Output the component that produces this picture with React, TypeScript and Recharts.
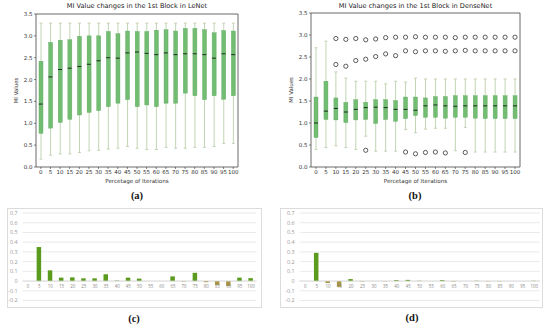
import React from "react";
import {
  Bar,
  CartesianGrid,
  Cell,
  ComposedChart,
  ReferenceArea,
  ReferenceLine,
  Scatter,
  XAxis,
  YAxis,
} from "recharts";

const pcts = [0, 5, 10, 15, 20, 25, 30, 35, 40, 45, 50, 55, 60, 65, 70, 75, 80, 85, 90, 95, 100];
const topTicks = [0, 0.5, 1, 1.5, 2, 2.5, 3, 3.5];
const bottomTicks = [-0.2, -0.1, 0, 0.1, 0.2, 0.3, 0.4, 0.5, 0.6, 0.7];

// (a) LeNet, 1st block
const lenetMin = [0.18, 0.27, 0.3, 0.3, 0.33, 0.37, 0.38, 0.41, 0.43, 0.47, 0.43, 0.4, 0.4, 0.45, 0.43, 0.43, 0.45, 0.45, 0.47, 0.54, 0.54];
const lenetQ1 = [0.77, 0.89, 1.02, 1.09, 1.19, 1.25, 1.29, 1.38, 1.46, 1.54, 1.38, 1.42, 1.38, 1.46, 1.46, 1.69, 1.63, 1.54, 1.63, 1.55, 1.63];
const lenetMed = [1.44, 2.06, 2.23, 2.26, 2.3, 2.35, 2.43, 2.5, 2.49, 2.61, 2.63, 2.6, 2.57, 2.61, 2.57, 2.59, 2.59, 2.57, 2.49, 2.59, 2.57];
const lenetQ3 = [2.42, 2.85, 2.9, 2.91, 2.99, 3.0, 3.0, 3.1, 3.05, 3.11, 3.1, 3.1, 3.13, 3.14, 3.11, 3.17, 3.17, 3.14, 3.07, 3.12, 3.11];
const lenetMax = [3.29, 3.29, 3.29, 3.29, 3.29, 3.29, 3.29, 3.29, 3.29, 3.29, 3.29, 3.29, 3.29, 3.29, 3.29, 3.29, 3.29, 3.29, 3.29, 3.29, 3.29];

// (b) DenseNet, 1st block
const denseMin = [0.4, 0.44, 0.48, 0.44, 0.4, 0.7, 0.36, 0.36, 0.36, 0.85, 0.78, 0.86, 0.88, 0.88, 0.37, 0.9, 0.34, 0.34, 0.34, 0.34, 0.34];
const denseQ1 = [0.67, 1.08, 1.07, 1.01, 1.07, 1.08, 0.99, 1.08, 1.04, 1.1, 1.17, 1.13, 1.13, 1.11, 1.13, 1.13, 1.11, 1.1, 1.1, 1.1, 1.1];
const denseMed = [1.0, 1.27, 1.33, 1.25, 1.31, 1.35, 1.36, 1.35, 1.31, 1.31, 1.29, 1.39, 1.41, 1.39, 1.38, 1.39, 1.39, 1.39, 1.39, 1.39, 1.39];
const denseQ3 = [1.59, 1.95, 1.57, 1.47, 1.53, 1.47, 1.53, 1.53, 1.51, 1.59, 1.59, 1.57, 1.6, 1.6, 1.62, 1.62, 1.62, 1.62, 1.62, 1.62, 1.62];
const denseMax = [2.71, 2.86, 2.16, 2.02, 1.95, 1.95, 1.95, 1.89, 1.95, 1.93, 2.02, 2.0, 2.0, 2.0, 2.0, 2.0, 2.0, 2.0, 2.0, 2.0, 2.0];
const denseOutHi = [null, null, 2.92, 2.9, 2.92, 2.89, 2.91, 2.94, 2.95, 2.95, 2.96, 2.95, 2.95, 2.95, 2.94, 2.95, 2.95, 2.95, 2.95, 2.95, 2.95];
const denseOutMid = [null, null, 2.33, 2.29, 2.42, 2.45, 2.51, 2.57, 2.53, 2.64, 2.62, 2.64, 2.64, 2.63, 2.64, 2.65, 2.64, 2.64, 2.64, 2.64, 2.64];
const denseOutLo = [null, null, null, null, null, 0.38, null, null, null, 0.34, 0.3, 0.33, 0.34, 0.32, null, 0.33, null, null, null, null, null];

// (c) LeNet differences, (d) DenseNet differences
const lenetDiff = [0, 0.35, 0.11, 0.035, 0.038, 0.028, 0.028, 0.07, 0.005, 0.035, 0.025, 0, 0, 0.048, -0.005, 0.085, -0.012, -0.04, -0.05, 0.035, 0.03];
const denseDiff = [0, 0.29, -0.02, -0.06, 0.02, -0.005, 0, -0.003, 0.01, 0.012, 0.003, 0, 0.01, -0.005, 0, 0.003, -0.003, -0.003, 0, 0, 0.003];

type Num = number | null;

function boxRows(mins: number[], q1: number[], med: number[], q3: number[], maxs: number[], outs: Num[][]) {
  return pcts.map((p, i) => ({
    pct: String(p),
    whisker: [mins[i], maxs[i]],
    box: [q1[i], q3[i]],
    med: med[i],
    o0: outs[0] ? outs[0][i] : null,
    o1: outs[1] ? outs[1][i] : null,
    o2: outs[2] ? outs[2][i] : null,
  }));
}

const lenetRows = boxRows(lenetMin, lenetQ1, lenetMed, lenetQ3, lenetMax, []);
const denseRows = boxRows(denseMin, denseQ1, denseMed, denseQ3, denseMax, [denseOutHi, denseOutMid, denseOutLo]);

const WhiskerShape = (props: any) => {
  const { x, y, width, height } = props;
  if (x == null || y == null || isNaN(y)) return <g />;
  const cx = x + width / 2;
  const top = Math.min(y, y + height);
  const bot = Math.max(y, y + height);
  return (
    <g stroke="#c2d4b4" strokeWidth={1}>
      <line x1={cx} x2={cx} y1={top} y2={bot} />
      <line x1={cx - 1.5} x2={cx + 1.5} y1={top} y2={top} />
      <line x1={cx - 1.5} x2={cx + 1.5} y1={bot} y2={bot} />
    </g>
  );
};

const BoxShape = (props: any) => {
  const { x, y, width, height } = props;
  if (x == null || y == null || isNaN(y)) return <g />;
  return (
    <rect
      x={x}
      y={Math.min(y, y + height)}
      width={width}
      height={Math.abs(height)}
      fill="#72bd72"
      stroke="#5ea85e"
      strokeWidth={0.4}
    />
  );
};

const MedianShape = (props: any) => {
  const { cx, cy } = props;
  if (cx == null || cy == null || isNaN(cy)) return <g />;
  return <line x1={cx - 2} x2={cx + 2} y1={cy} y2={cy} stroke="#1e2a1e" strokeWidth={1} />;
};

const outlierShape = (key: string) => (props: any) => {
  const { cx, cy, payload } = props;
  if (payload[key] == null || cx == null || cy == null || isNaN(cy)) return <g />;
  return <circle cx={cx} cy={cy} r={2.1} fill="none" stroke="#333" strokeWidth={0.8} />;
};

type BoxPanelProps = {
  title: string;
  rows: any[];
  left: number;
  rightMargin: number;
  top: number;
};

function BoxPanel({ title, rows, left, rightMargin, top }: BoxPanelProps) {
  return (
    <div style={{ position: "absolute", left, top: 0, width: 275, height: 195, fontFamily: "DejaVu Sans" }}>
      <div
        style={{
          position: "absolute",
          left: 36,
          width: 275 - 36 - rightMargin,
          top: 2,
          textAlign: "center",
          fontSize: 6.6,
          color: "#222",
          whiteSpace: "nowrap",
        }}
      >
        {title}
      </div>
      <ComposedChart
        width={275}
        height={195}
        data={rows}
        margin={{ top, right: rightMargin, bottom: 4, left: 6 }}
        barSize={4}
        barGap={-4}
      >
        <XAxis
          dataKey="pct"
          interval={0}
          tickSize={2}
          tickMargin={1}
          axisLine={false}
          tickLine={{ stroke: "#333", strokeWidth: 0.6 }}
          tick={{ fontSize: 5.5, fill: "#333" }}
          height={24}
          label={{ value: "Percetage of Iterations", position: "insideBottom", offset: 8, fontSize: 5.6, fill: "#333" }}
        />
        <YAxis
          domain={[0, 3.5]}
          ticks={topTicks}
          interval={0}
          width={30}
          tickSize={2}
          tickMargin={1.5}
          axisLine={false}
          tickLine={{ stroke: "#333", strokeWidth: 0.6 }}
          tick={{ fontSize: 5.5, fill: "#333" }}
          tickFormatter={(v: number) => v.toFixed(1)}
          label={{ value: "MI Values", angle: -90, position: "insideLeft", offset: 10, fontSize: 5.4, fill: "#333", style: { textAnchor: "middle" } }}
        />
        <ReferenceArea y1={0} y2={3.5} fill="none" stroke="#444" strokeWidth={0.8} ifOverflow="visible" />
        <Bar dataKey="whisker" shape={WhiskerShape} isAnimationActive={false} />
        <Bar dataKey="box" shape={BoxShape} isAnimationActive={false} />
        <Scatter dataKey="med" shape={MedianShape} isAnimationActive={false} />
        <Scatter dataKey="o0" shape={outlierShape("o0")} isAnimationActive={false} />
        <Scatter dataKey="o1" shape={outlierShape("o1")} isAnimationActive={false} />
        <Scatter dataKey="o2" shape={outlierShape("o2")} isAnimationActive={false} />
      </ComposedChart>
    </div>
  );
}

const CategoryLabel = (props: any) => {
  const { cx, cy, payload } = props;
  if (cx == null || cy == null || isNaN(cy)) return <g />;
  return (
    <text x={cx} y={cy + 5.5} textAnchor="middle" dominantBaseline="middle" fontSize={4.4} fill="#8a8a8a">
      {payload.pct}
    </text>
  );
};

type DiffPanelProps = {
  values: number[];
  left: number;
  width: number;
  plotLeft: number;
  plotRight: number;
};

function DiffPanel({ values, left, width, plotLeft, plotRight }: DiffPanelProps) {
  const rows = pcts.map((p, i) => ({ pct: String(p), v: values[i], zero: 0 }));
  return (
    <div
      style={{
        position: "absolute",
        left,
        top: 208,
        width,
        height: 100,
        border: "1px solid #dcdcdc",
        boxSizing: "border-box",
        fontFamily: "Open Sans",
        background: "#fff",
      }}
    >
      <ComposedChart
        width={width - 2}
        height={98}
        data={rows}
        margin={{ top: 4, right: width - 2 - plotRight, bottom: 6.5, left: 0 }}
      >
        <CartesianGrid vertical={false} stroke="#e4e4e4" strokeWidth={0.8} />
        <XAxis dataKey="pct" hide />
        <YAxis
          domain={[-0.2, 0.7]}
          ticks={bottomTicks}
          interval={0}
          width={plotLeft}
          tickSize={0}
          tickMargin={5}
          axisLine={false}
          tickLine={false}
          tick={{ fontSize: 5.4, fill: "#999" }}
          tickFormatter={(v: number) => String(Math.round(v * 10) / 10)}
        />
        <ReferenceLine y={0} stroke="#d6d6d6" strokeWidth={0.8} />
        <Bar dataKey="v" barSize={4.5} isAnimationActive={false}>
          {rows.map((r, i) => (
            <Cell key={i} fill={r.v >= 0 ? "#5a9a1c" : "#a8953c"} />
          ))}
        </Bar>
        <Scatter dataKey="zero" shape={CategoryLabel} isAnimationActive={false} />
      </ComposedChart>
    </div>
  );
}

const panelLabel = (text: string, x: number, y: number) => (
  <div
    style={{
      position: "absolute",
      left: x - 20,
      width: 40,
      top: y - 7,
      textAlign: "center",
      fontFamily: "Liberation Serif",
      fontWeight: "bold",
      fontSize: 10.5,
      color: "#111",
    }}
  >
    {text}
  </div>
);

export default function App() {
  return (
    <div style={{ position: "absolute", left: 0, top: 0, width: 550, height: 328, background: "#fff", overflow: "hidden" }}>
      <BoxPanel title="MI Value changes in the 1st Block in LeNet" rows={lenetRows} left={0} rightMargin={37} top={14} />
      <BoxPanel title="MI Value changes in the 1st Block in DenseNet" rows={denseRows} left={275} rightMargin={30} top={13} />
      <DiffPanel values={lenetDiff} left={7} width={255} plotLeft={14.5} plotRight={248.5} />
      <DiffPanel values={denseDiff} left={280} width={263} plotLeft={18.5} plotRight={259} />
      {panelLabel("(a)", 137, 197)}
      {panelLabel("(b)", 415, 197)}
      {panelLabel("(c)", 134, 320)}
      {panelLabel("(d)", 412, 319)}
    </div>
  );
}
